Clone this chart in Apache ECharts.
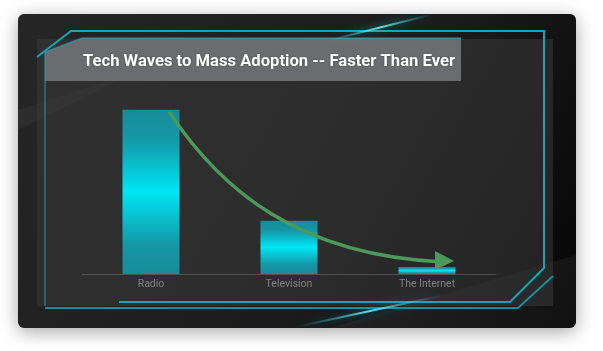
<!DOCTYPE html>
<html>
<head>
<meta charset="utf-8">
<script src="https://cdn.jsdelivr.net/npm/echarts@6/dist/echarts.min.js"></script>
<style>
  html, body { margin: 0; padding: 0; background: #ffffff; }
  #main { width: 603px; height: 351px; }
</style>
</head>
<body>
<div id="main"></div>
<script>
var categories = ['Radio', 'Television', 'The Internet'];
var yearsToAdoption = [38, 12.3, 1.6];
var titleText = 'Tech Waves to Mass Adoption -- Faster Than Ever';

var dom = document.getElementById('main');
var myChart = echarts.init(dom, null, { renderer: 'canvas' });

// title gets squeezed a little, the original uses a condensed face
var titleFont = 'bold 17px Roboto';
var cv = document.createElement('canvas').getContext('2d');
cv.font = titleFont;
var titleScale = 372 / cv.measureText(titleText).width;

function barColor() {
    return new echarts.graphic.LinearGradient(0, 0, 0, 1, [
        { offset: 0, color: '#178b99' },
        { offset: 0.18, color: '#1597a6' },
        { offset: 0.5, color: '#00e6f6' },
        { offset: 0.82, color: '#1597a6' },
        { offset: 1, color: '#178b99' }
    ]);
}

function streak(x1, y1, x2, y2) {
    return {
        type: 'line', z: 3, silent: true,
        shape: { x1: x1, y1: y1, x2: x2, y2: y2 },
        style: {
            stroke: new echarts.graphic.LinearGradient(0, 0, 1, 0, [
                { offset: 0, color: 'rgba(40,200,215,0)' },
                { offset: 0.5, color: 'rgba(120,235,245,0.9)' },
                { offset: 1, color: 'rgba(40,200,215,0)' }
            ]),
            lineWidth: 2, shadowBlur: 8, shadowColor: 'rgba(0,220,240,0.8)'
        }
    };
}

var decor = [
    // card
    {
        type: 'rect', z: 0, silent: true,
        shape: { x: 18, y: 14, width: 558, height: 314, r: 6 },
        style: {
            fill: new echarts.graphic.LinearGradient(0, 0, 1, 1, [
                { offset: 0, color: '#262626' },
                { offset: 0.6, color: '#1b1b1b' },
                { offset: 1, color: '#050505' }
            ]),
            shadowBlur: 18, shadowOffsetY: 4, shadowColor: 'rgba(0,0,0,0.35)'
        }
    },
    // dark diagonal bands on the card
    {
        type: 'polygon', z: 0, silent: true,
        shape: { points: [[18, 110], [140, 70], [18, 130]] },
        style: { fill: 'rgba(255,255,255,0.04)' }
    },
    {
        type: 'polygon', z: 0, silent: true,
        shape: { points: [[330, 328], [576, 255], [576, 328]] },
        style: { fill: 'rgba(255,255,255,0.05)' }
    },
    // inner panel
    {
        type: 'rect', z: 1, silent: true,
        shape: { x: 37, y: 39, width: 516, height: 267 },
        style: { fill: 'rgba(58,58,58,0.55)' }
    },
    // title bar
    {
        type: 'polygon', z: 2, silent: true,
        shape: { points: [[45, 52], [82, 38], [461, 38], [461, 81], [45, 81]] },
        style: { fill: '#6b6c6f' }
    },
    {
        type: 'polyline', z: 2, silent: true,
        shape: { points: [[45, 306], [45, 52], [82, 38], [461, 38]] },
        style: { stroke: 'rgba(40,170,185,0.55)', lineWidth: 1.5, fill: null }
    },
    // teal frame lines
    {
        type: 'polyline', z: 3, silent: true,
        shape: { points: [[37, 57], [71, 31], [544, 31], [544, 268], [510, 302], [119, 302]] },
        style: { stroke: '#1aa3b3', lineWidth: 2, fill: null }
    },
    {
        type: 'polyline', z: 3, silent: true,
        shape: { points: [[45, 308], [518, 308], [553, 276]] },
        style: { stroke: '#168f9d', lineWidth: 2, fill: null }
    },
    streak(330, 40, 430, 15),
    streak(300, 326, 440, 296),
    // title
    {
        type: 'text', z: 5, silent: true,
        x: 83, y: 62, scaleX: titleScale,
        style: {
            text: titleText, font: titleFont, fill: '#ffffff',
            verticalAlign: 'middle', align: 'left',
            textShadowBlur: 2, textShadowColor: 'rgba(0,0,0,0.4)'
        }
    }
];

var option = {
    animation: false,
    backgroundColor: '#ffffff',
    grid: { left: 82, right: 107, top: 101, bottom: 77 },
    xAxis: {
        type: 'category',
        data: categories,
        axisLine: { lineStyle: { color: '#6b6b6b', width: 1 } },
        axisTick: { show: false },
        axisLabel: {
            color: '#d6d6d6', fontSize: 10.5, margin: 5,
            fontFamily: 'Roboto'
        }
    },
    yAxis: {
        type: 'value', min: 0, max: 40,
        show: false,
        splitLine: { show: false }
    },
    graphic: decor,
    series: [
        {
            type: 'bar',
            z: 4,
            barWidth: 57,
            data: yearsToAdoption,
            itemStyle: { color: barColor() }
        }
    ]
};
myChart.setOption(option);

// green arrow, anchored on the first and last bars
var s0 = myChart.convertToPixel({ gridIndex: 0 }, [0, yearsToAdoption[0]]);
var e0 = myChart.convertToPixel({ gridIndex: 0 }, [2, 0]);
var sx = s0[0] + 18, sy = s0[1] + 2;
var ex = e0[0] + 27, ey = e0[1] - 13;
var dx = ex - sx, dy = ey - sy;
myChart.setOption({
    graphic: decor.concat([
        {
            type: 'bezierCurve', z: 10, silent: true,
            shape: {
                x1: sx, y1: sy,
                cpx1: sx + 0.18 * dx, cpy1: sy + 0.52 * dy,
                cpx2: sx + 0.45 * dx, cpy2: sy + 0.96 * dy,
                x2: ex - 12, y2: ey + 1
            },
            style: { stroke: '#4c9a5a', lineWidth: 3.5, fill: null }
        },
        {
            type: 'polygon', z: 10, silent: true,
            shape: { points: [[ex - 19, ey - 10], [ex, ey], [ex - 19, ey + 9]] },
            style: { fill: '#4c9a5a' }
        }
    ])
});
</script>
</body>
</html>
